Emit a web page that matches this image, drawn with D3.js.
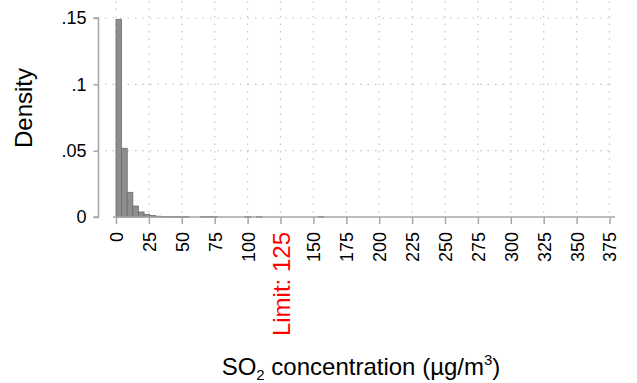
<!DOCTYPE html>
<html>
<head>
<meta charset="utf-8">
<script src="https://cdn.jsdelivr.net/npm/d3@7"></script>
<style>
  html, body { margin: 0; padding: 0; background: #fff; }
  svg { display: block; font-family: Arial, "Liberation Sans", Helvetica, sans-serif; }
</style>
</head>
<body>
<svg id="chart" width="637" height="383"></svg>
<script>
// Histogram of SO2 concentration: bin width and density per bin
const binWidth = 4.27;
const densities = [
  0.149, 0.0518, 0.0186, 0.0083, 0.0038, 0.0020, 0.0012, 0.0006,
  0.0004, 0.0004, 0.0004, 0.0004, 0.0004, 0, 0, 0.0004,
  0.0004, 0.0004, 0, 0, 0, 0, 0, 0.0004,
  0, 0.0004, 0, 0, 0, 0, 0, 0,
  0, 0, 0, 0, 0.0004
];
const xTicks = [0, 25, 50, 75, 100, 125, 150, 175, 200, 225, 250, 275, 300, 325, 350, 375];
const yTicks = [0, 0.05, 0.1, 0.15];
const yTickLabels = ["0", ".05", ".1", ".15"];
const limitValue = 125;
const limitLabel = "Limit: 125";

const svg = d3.select("#chart");

const x = d3.scaleLinear().domain([0, 375]).range([116, 609.5]);
const y = d3.scaleLinear().domain([0, 0.15]).range([217, 18]);

const gridColor = "#c4c4c4";
const axisColor = "#a6a6a6";

// dotted grid
const grid = svg.append("g");
grid.selectAll("line.vg").data(xTicks).join("line")
  .attr("x1", d => x(d)).attr("x2", d => x(d))
  .attr("y1", 1).attr("y2", 216)
  .attr("stroke", gridColor).attr("stroke-width", 1.2)
  .attr("stroke-dasharray", "1.5,6");
grid.selectAll("line.hg").data(yTicks.slice(1)).join("line")
  .attr("x1", 105).attr("x2", 615)
  .attr("y1", d => y(d)).attr("y2", d => y(d))
  .attr("stroke", gridColor).attr("stroke-width", 1.2)
  .attr("stroke-dasharray", "1.5,6");

// bars
svg.append("g").selectAll("rect")
  .data(densities.map((d, i) => ({ x0: i * binWidth, x1: (i + 1) * binWidth, d })).filter(b => b.d > 0))
  .join("rect")
  .attr("x", b => x(b.x0))
  .attr("width", b => x(b.x1) - x(b.x0))
  .attr("y", b => y(b.d))
  .attr("height", b => Math.max(y(0) - y(b.d), 0.8))
  .attr("fill", "#8e8e8e")
  .attr("stroke", "#6c6c6c")
  .attr("stroke-width", 0.8);

// y axis
const yAxis = d3.axisLeft(y).tickValues(yTicks)
  .tickFormat((d, i) => yTickLabels[i]).tickSize(5).tickPadding(7);
const yg = svg.append("g").attr("transform", "translate(98.5,0)").call(yAxis);
yg.select(".domain").attr("stroke", axisColor).attr("stroke-width", 1.5)
  .attr("d", `M-5,${y(0.15)}H0V${y(0)}H-5`);
yg.selectAll(".tick line").attr("stroke", axisColor).attr("stroke-width", 1.5);
yg.selectAll(".tick text").attr("font-size", 18).attr("fill", "#000")
  .attr("font-family", "Arial, 'Liberation Sans', sans-serif");

// x axis
const xAxis = d3.axisBottom(x).tickValues(xTicks).tickSize(7).tickPadding(0)
  .tickFormat(d => d === limitValue ? limitLabel : String(d));
const xg = svg.append("g").attr("transform", "translate(0,217)").call(xAxis);
xg.select(".domain").attr("stroke", axisColor).attr("stroke-width", 1.5)
  .attr("d", "M113,0H615");
xg.selectAll(".tick line").attr("stroke", axisColor).attr("stroke-width", 1.5);
xg.selectAll(".tick text")
  .attr("font-family", "Arial, 'Liberation Sans', sans-serif")
  .attr("font-size", d => d === limitValue ? 24 : 18)
  .attr("fill", d => d === limitValue ? "#ff0000" : "#000")
  .attr("text-anchor", "end")
  .attr("transform", "rotate(-90)")
  .attr("x", -15)
  .attr("y", 0)
  .attr("dy", "0.36em");

// axis titles
svg.append("text")
  .attr("transform", "translate(32,108) rotate(-90)")
  .attr("text-anchor", "middle")
  .attr("font-size", 24)
  .attr("fill", "#000")
  .text("Density");

const xt = svg.append("text")
  .attr("x", 361).attr("y", 375)
  .attr("text-anchor", "middle")
  .attr("font-size", 24)
  .attr("fill", "#000");
xt.append("tspan").text("SO");
xt.append("tspan").attr("font-size", 15).attr("dy", 5).text("2");
xt.append("tspan").attr("dy", -5).text(" concentration (\u00b5g/m");
xt.append("tspan").attr("font-size", 15).attr("dy", -10).text("3");
xt.append("tspan").attr("dy", 10).text(")");
</script>
</body>
</html>
